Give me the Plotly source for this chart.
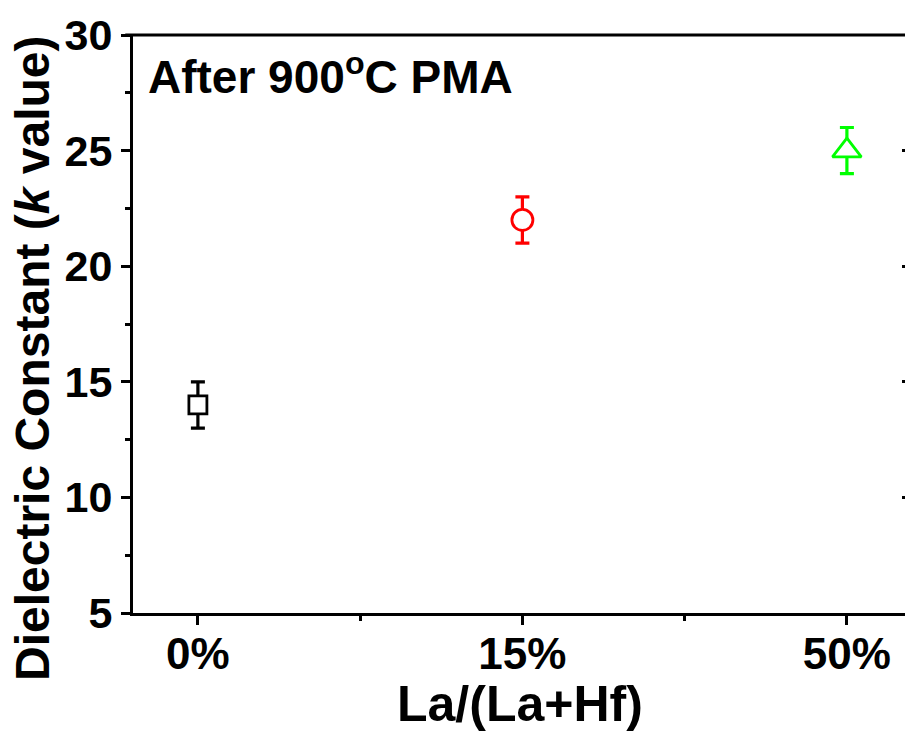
import plotly.graph_objects as go

categories = ["0%", "15%", "50%"]
k_values = [14, 22, 25]
k_errors = [1, 1, 1]
colors = ["#000000", "#FF0000", "#00FF00"]
symbols = ["square", "circle", "triangle-up"]
sizes = [18, 21, 25]
y_ticks = [5, 10, 15, 20, 25, 30]

FONT = "Liberation Sans, Arial, sans-serif"
L, T, W, H = 133, 35, 905, 731
PW = W - L
PH = 613 - T

fig = go.Figure()
for i, cat in enumerate(categories):
    fig.add_trace(go.Scatter(
        x=[i], y=[k_values[i]], mode="markers", name=cat,
        marker=dict(symbol=symbols[i], size=sizes[i], color="white",
                    line=dict(color=colors[i], width=2.8)),
        error_y=dict(type="data", array=[k_errors[i]], color=colors[i],
                     thickness=3.2, width=7),
        showlegend=False,
    ))

fig.update_layout(
    width=W, height=H,
    margin=dict(l=L, r=0, t=T, b=H - 613),
    paper_bgcolor="white", plot_bgcolor="white",
    font=dict(family=FONT, color="black"),
    xaxis=dict(
        range=[-0.2, -0.2 + PW / 324.5], tickvals=list(range(len(categories))),
        ticktext=[f"<b>{c}</b>" for c in categories],
        showgrid=False, zeroline=False, showline=True, linecolor="black",
        linewidth=3, ticks="outside", ticklen=9, tickwidth=2.5, tickcolor="black",
        tickfont=dict(size=44, family=FONT), ticklabelstandoff=-9,
        minor=dict(dtick=0.5, tick0=0.5, ticks="outside", ticklen=5, tickwidth=2.5,
                   tickcolor="black", showgrid=False),
    ),
    yaxis=dict(
        range=[5, 30], tickvals=y_ticks,
        ticktext=[f"<b>{v}</b>" for v in y_ticks],
        showgrid=False, zeroline=False, showline=True, linecolor="black",
        linewidth=3, ticks="outside", ticklen=9, tickwidth=2.5, tickcolor="black",
        tickfont=dict(size=43, family=FONT),
        minor=dict(dtick=2.5, tick0=5, ticks="outside", ticklen=5, tickwidth=2.5,
                   tickcolor="black", showgrid=False),
    ),
    yaxis2=dict(
        range=[5, 30], overlaying="y", side="right", tickvals=y_ticks[1:-1],
        showticklabels=False, showgrid=False, zeroline=False, showline=False,
        ticks="inside", ticklen=3, tickwidth=2.5, tickcolor="black",
    ),
)

fig.add_trace(go.Scatter(x=[None], y=[None], yaxis="y2", showlegend=False))

fig.add_shape(type="line", xref="paper", yref="paper", x0=-0.01, x1=1, y0=1, y1=1,
              line=dict(color="black", width=3))

fig.add_annotation(
    text="<b>After 900<sup>o</sup>C PMA</b>", xref="paper", yref="paper",
    x=(146 - L) / PW, y=(613 - 74) / PH, xanchor="left", yanchor="middle",
    showarrow=False, font=dict(size=46, family=FONT, color="black"),
)
fig.add_annotation(
    text="<b>Dielectric Constant (<i>k</i> value)</b>", xref="paper", yref="paper",
    x=(32 - L) / PW, y=(613 - 358) / PH, xanchor="center", yanchor="middle",
    textangle=-90, showarrow=False, font=dict(size=48, family=FONT, color="black"),
)
fig.add_annotation(
    text="<b>La/(La+Hf)</b>", xref="paper", yref="paper",
    x=(520 - L) / PW, y=(613 - 704) / PH, xanchor="center", yanchor="middle",
    showarrow=False, font=dict(size=50, family=FONT, color="black"),
)

fig.write_html("out.html")
